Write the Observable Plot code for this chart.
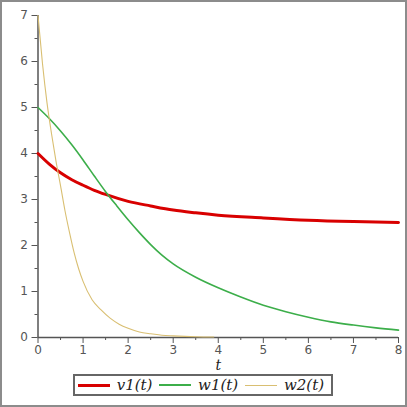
<!DOCTYPE html>
<html><head><meta charset="utf-8">
<script src="https://cdn.jsdelivr.net/npm/d3@7"></script>
<script src="https://cdn.jsdelivr.net/npm/@observablehq/plot@0.6"></script>
<style>
html,body{margin:0;padding:0;background:#fff;}
#frame{width:407px;height:407px;box-sizing:border-box;border:2px solid #8c8c8c;position:relative;overflow:hidden;background:#fff;}
#frame svg{position:absolute;left:0;top:0;}
#legend{position:absolute;left:71px;top:372px;width:260px;height:22px;box-sizing:border-box;border:2px solid #666;display:flex;align-items:center;padding-left:3px;font-family:"DejaVu Serif",serif;font-style:italic;font-size:15px;color:#222;background:#fff;}
#legend .sw{width:33px;margin-right:7px;}
#legend .lab{margin-right:7px;white-space:nowrap;}
</style>
</head><body>
<div id="frame"></div>
<script>
// v1(t)
const tV1 = [0,0.25,0.5,0.75,1,1.25,1.5,2,2.5,3,3.5,4,5,6,7,8];
const v1  = [4.0,3.77,3.58,3.43,3.31,3.2,3.11,2.96,2.86,2.77,2.71,2.66,2.6,2.55,2.52,2.5];
// w1(t)
const tW1 = [0,0.25,0.5,0.75,1,1.25,1.5,1.75,2,2.25,2.5,2.75,3,3.5,4,4.5,5,5.5,6,6.5,7,7.5,8];
const w1  = [5.0,4.76,4.49,4.19,3.86,3.51,3.17,2.86,2.56,2.28,2.02,1.79,1.6,1.31,1.08,0.88,0.7,0.56,0.44,0.34,0.27,0.21,0.16];
// w2(t)
const tW2 = [0,0.1,0.2,0.3,0.4,0.5,0.6,0.7,0.8,0.9,1,1.2,1.4,1.6,1.8,2,2.25,2.5,2.75,3,3.5,3.9];
const w2  = [7.0,5.95,5.1,4.43,3.83,3.3,2.75,2.28,1.85,1.5,1.22,0.82,0.6,0.42,0.29,0.2,0.12,0.08,0.05,0.035,0.015,0.01];

const seriesNames = ["v1(t)","w1(t)","w2(t)"];
const seriesColors = ["#d80000","#3cae4a","#d9bf72"];
const seriesWidths = [3,1.6,1.1];
const xMajor = [0,1,2,3,4,5,6,7,8];
const xMinor = [0.5,1.5,2.5,3.5,4.5,5.5,6.5,7.5];
const yMajor = [0,1,2,3,4,5,6,7];
const yMinor = [0.5,1.5,2.5,3.5,4.5,5.5,6.5];

const rows = (ts, vs) => ts.map((t,i)=>({t, v: vs[i]}));
const data = [rows(tV1,v1), rows(tW1,w1), rows(tW2,w2)];

const axisColor = "#555";
const chart = Plot.plot({
  width: 403, height: 370,
  marginLeft: 35.5, marginRight: 7, marginTop: 13, marginBottom: 35,
  x: {domain:[0,8], label:null},
  y: {domain:[0,7], label:null},
  style: {fontFamily:"DejaVu Sans, sans-serif", fontSize:"12px", color:axisColor, background:"transparent", overflow:"visible"},
  marks: [
    Plot.axisX({ticks: xMinor, tickSize: 3, tickFormat: () => "", label: null, stroke: axisColor}),
    Plot.axisX({ticks: xMajor, tickSize: 6, tickPadding: 2, tickFormat: d3.format("d"), label: null, stroke: axisColor}),
    Plot.axisY({ticks: yMinor, tickSize: 3, tickFormat: () => "", label: null, stroke: axisColor}),
    Plot.axisY({ticks: yMajor, tickSize: 6, tickPadding: 4, tickFormat: d3.format("d"), label: null, stroke: axisColor}),
    Plot.ruleX([0], {stroke: axisColor, strokeWidth: 1.5}),
    Plot.ruleY([0], {stroke: axisColor, strokeWidth: 1.5}),
    ...data.map((d,i) => Plot.line(d, {x:"t", y:"v", stroke: seriesColors[i], strokeWidth: seriesWidths[i], curve:"monotone-x"})),
    Plot.text(["t"], {frameAnchor:"bottom", dy: 32, text: d=>d, fontStyle:"italic", fontFamily:"DejaVu Serif, serif", fontSize: 14, fill:"#222"})
  ]
});
const frame = document.getElementById("frame");
frame.appendChild(chart);

const legend = document.createElement("div");
legend.id = "legend";
seriesNames.forEach((name,i) => {
  const sw = document.createElement("span");
  sw.className = "sw";
  sw.style.borderTop = seriesWidths[i] + 0.5 + "px solid " + seriesColors[i];
  legend.appendChild(sw);
  const lab = document.createElement("span");
  lab.className = "lab";
  lab.textContent = name;
  legend.appendChild(lab);
});
frame.appendChild(legend);
</script>
</body></html>
